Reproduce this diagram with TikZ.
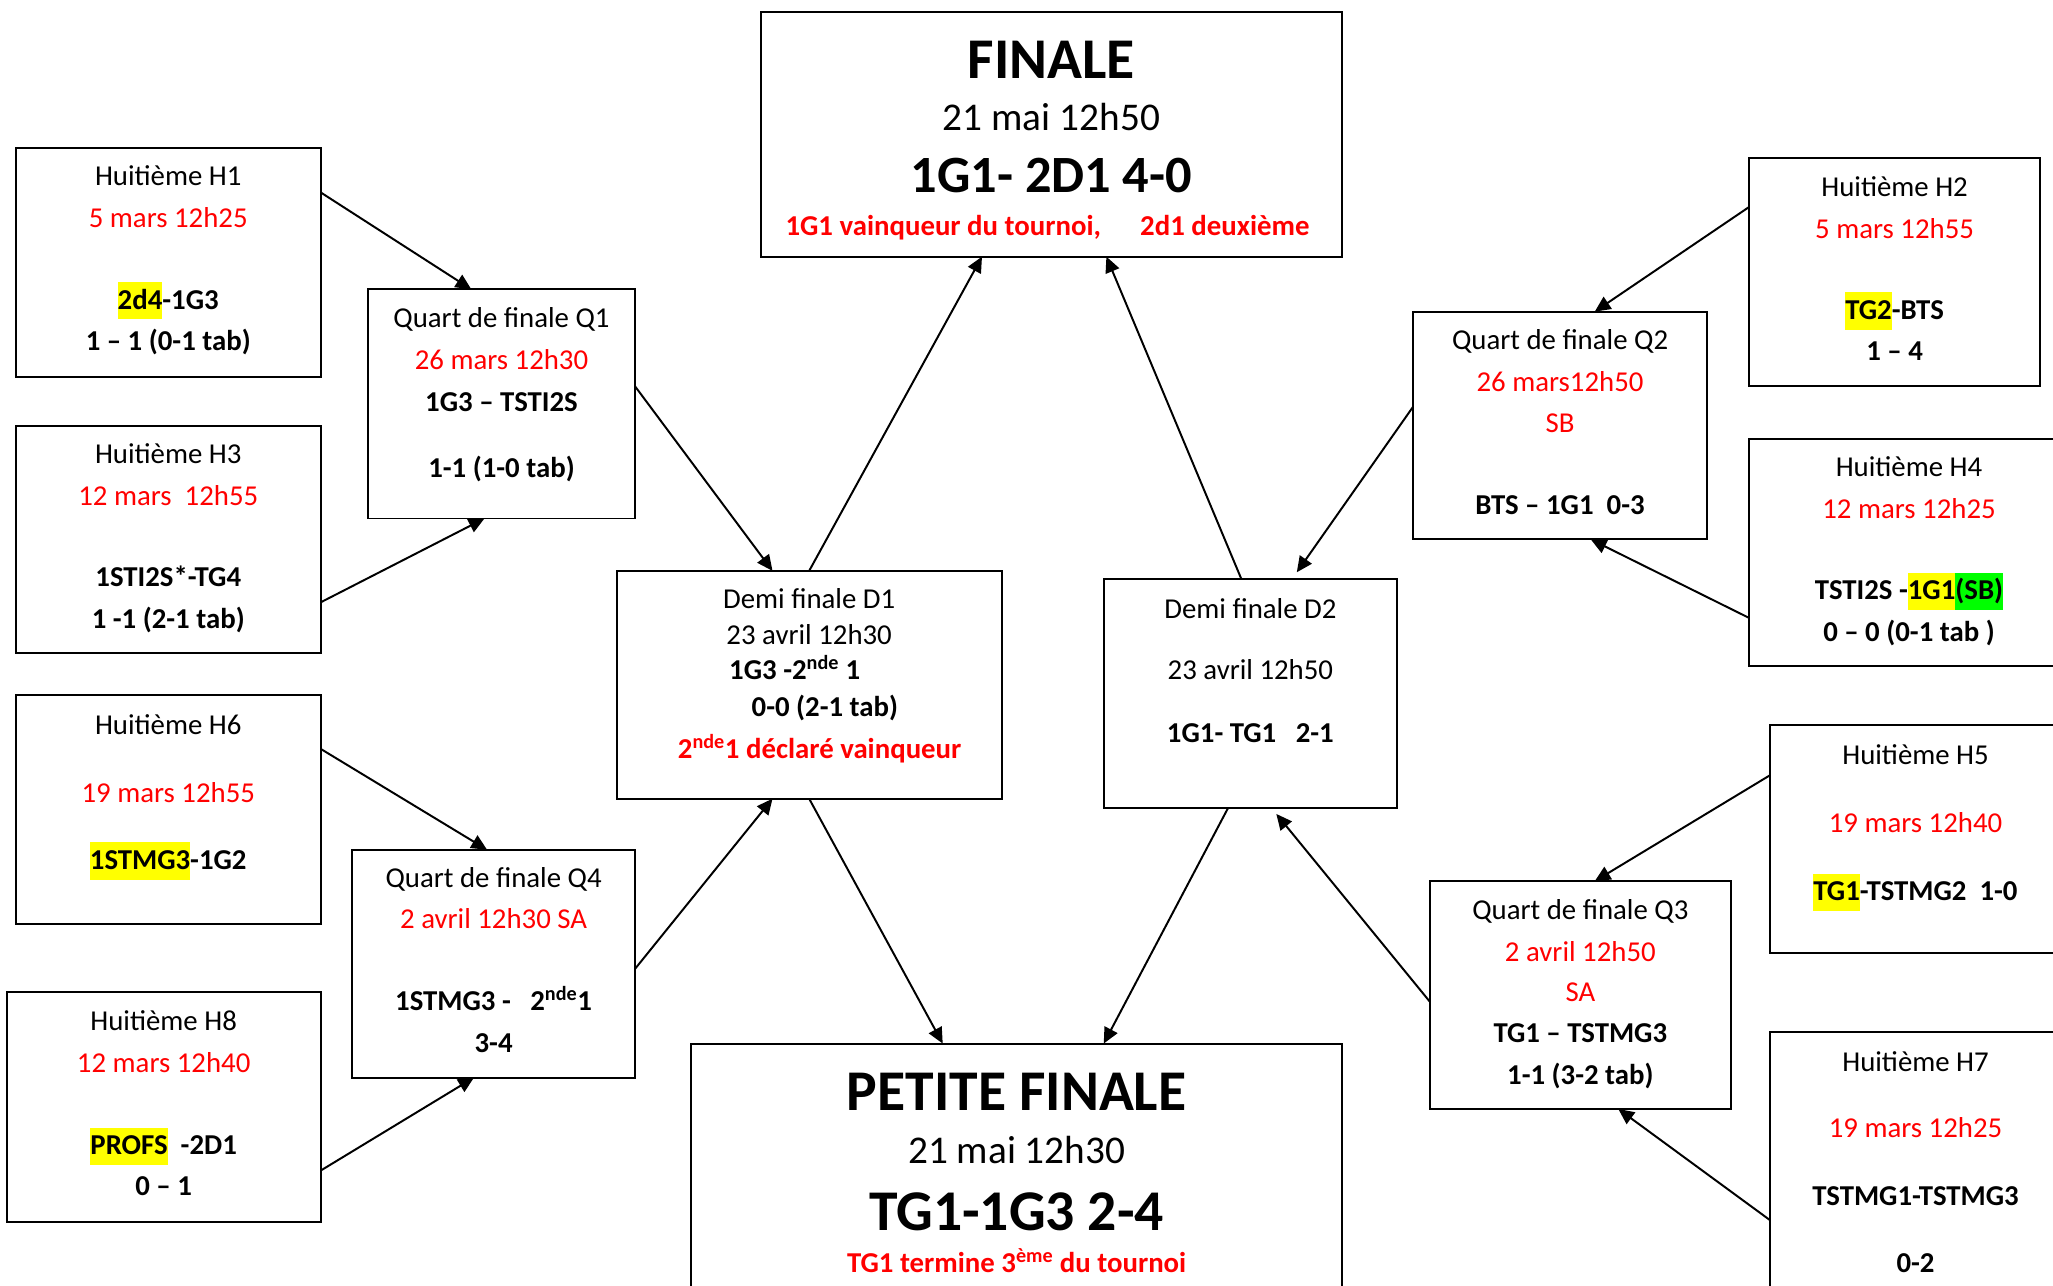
\documentclass[tikz,border=0pt]{standalone}
\usepackage{fontspec}
\setmainfont{Carlito}
\usetikzlibrary{arrows.meta}
\definecolor{hlyel}{RGB}{255,255,0}
\definecolor{hlgrn}{RGB}{0,255,0}
\definecolor{rd}{RGB}{255,0,0}
\newcommand\hly[1]{{\setlength{\fboxsep}{0pt}\colorbox{hlyel}{\rule[-0.36em]{0pt}{1.3em}#1}}}
\newcommand\hlg[1]{{\setlength{\fboxsep}{0pt}\colorbox{hlgrn}{\rule[-0.36em]{0pt}{1.3em}#1}}}
\newcommand\putline[5]{\node[#2] (#1) at (#3,#4) {#5};}
\tikzset{
  box/.style={draw, line width=1.5pt, inner sep=0pt, outer sep=0pt, anchor=north west},
  txt/.style={inner sep=0pt, anchor=base, font=\fontsize{22}{26}\selectfont},
  red/.style={txt, text=rd},
  bt/.style={txt, font=\fontsize{22}{26}\selectfont\bfseries},
  rb/.style={bt, text=rd},
  big/.style={inner sep=0pt, anchor=base, font=\fontsize{44}{50}\selectfont\bfseries},
  mid/.style={inner sep=0pt, anchor=base, font=\fontsize{30}{34}\selectfont},
  score/.style={inner sep=0pt, anchor=base, font=\fontsize{40}{46}\selectfont\bfseries},
  score2/.style={inner sep=0pt, anchor=base, font=\fontsize{44}{50}\selectfont\bfseries},
  arr/.style={line width=1.5pt, -{Triangle[length=12pt,width=11pt]}},
}
\begin{document}
\begin{tikzpicture}[x=1pt,y=-1pt]
\fill[white] (0,0) rectangle (1568,982);
\useasboundingbox (0,0) rectangle (1568,982);

% boxes
\node[box, minimum width=444pt, minimum height=187pt] (fin) at (581,9) {};
\node[box, minimum width=233pt, minimum height=175pt] (h1) at (12,113) {};
\node[box, minimum width=233pt, minimum height=174pt] (h3) at (12,325) {};
\node[box, minimum width=233pt, minimum height=175pt] (h6) at (12,531) {};
\node[box, minimum width=240pt, minimum height=175pt] (h8) at (5,758) {};
\node[box, minimum width=204pt, minimum height=175pt] (q1) at (281,221) {};
\node[box, minimum width=216pt, minimum height=174pt] (q4) at (269,649) {};
\node[box, minimum width=294pt, minimum height=174pt] (d1) at (471,436) {};
\node[box, minimum width=224pt, minimum height=175pt] (d2) at (843,442) {};
\node[box, minimum width=497pt, minimum height=210pt] (pf) at (528,797) {};
\node[box, minimum width=225pt, minimum height=174pt] (q2) at (1079,238) {};
\node[box, minimum width=222pt, minimum height=174pt] (h2) at (1336,121) {};
\node[box, minimum width=244pt, minimum height=174pt] (h4) at (1336,335) {};
\node[box, minimum width=223pt, minimum height=174pt] (h5) at (1352,554) {};
\node[box, minimum width=230pt, minimum height=174pt] (q3) at (1092,673) {};
\node[box, minimum width=223pt, minimum height=220pt] (h7) at (1352,788) {};

% texts
\putline{finA}{big}{803}{60}{FINALE}
\putline{finB}{mid}{803}{100}{21 mai 12h50}
\putline{finC}{score}{803}{147}{1G1- 2D1 4-0}
\putline{finD}{rb}{800}{180}{1G1 vainqueur du tournoi,\hspace{1.36em}2d1 deuxième}

\putline{h1a}{txt}{128.5}{142}{Huitième H1}
\putline{h1b}{red}{128.5}{174}{5 mars 12h25}
\putline{h1c}{bt}{128.5}{236}{\hly{2d4}-1G3}
\putline{h1d}{bt}{128.5}{268}{1 – 1 (0-1 tab)}

\putline{h3a}{txt}{128.5}{354}{Huitième H3}
\putline{h3b}{red}{128.5}{386}{12 mars~ 12h55}
\putline{h3c}{bt}{128.5}{448}{1STI2S*-TG4}
\putline{h3d}{bt}{128.5}{480}{1 -1 (2-1 tab)}

\putline{h6a}{txt}{128.5}{561}{Huitième H6}
\putline{h6b}{red}{128.5}{613}{19 mars 12h55}
\putline{h6c}{bt}{128.5}{664}{\hly{1STMG3}-1G2}

\putline{h8a}{txt}{125}{787}{Huitième H8}
\putline{h8b}{red}{125}{819}{12 mars 12h40}
\putline{h8c}{bt}{125}{882}{\hly{PROFS}~ -2D1}
\putline{h8d}{bt}{125}{913}{0 – 1}

\putline{q1a}{txt}{383}{250}{Quart de finale Q1}
\putline{q1b}{red}{383}{282}{26 mars 12h30}
\putline{q1c}{bt}{383}{314}{1G3 – TSTI2S}
\putline{q1d}{bt}{383}{365}{1-1 (1-0 tab)}

\putline{q4a}{txt}{377}{678}{Quart de finale Q4}
\putline{q4b}{red}{377}{709}{2 avril 12h30 SA}
\putline{q4c}{bt}{377}{772}{1STMG3 -~~~2\textsuperscript{nde}1}
\putline{q4d}{bt}{377}{804}{3-4}

\putline{d1a}{txt}{618}{465}{Demi finale D1}
\putline{d1b}{txt}{618}{492}{23 avril 12h30}
\putline{d1c}{bt}{607}{519}{1G3 -2\textsuperscript{nde} 1}
\putline{d1d}{bt}{630}{547}{0-0 (2-1 tab)}
\putline{d1e}{rb}{626}{579}{2\textsuperscript{nde}1 déclaré vainqueur}

\putline{d2a}{txt}{955}{472}{Demi finale D2}
\putline{d2b}{txt}{955}{519}{23 avril 12h50}
\putline{d2c}{bt}{955}{567}{1G1- TG1~~ 2-1}

\putline{pfa}{big}{776.5}{848}{PETITE FINALE}
\putline{pfb}{mid}{776.5}{889}{21 mai 12h30}
\putline{pfc}{score2}{776.5}{940}{TG1-1G3 2-4}
\putline{pfd}{rb}{776.5}{972}{TG1 termine 3\textsuperscript{ème} du tournoi}

\putline{q2a}{txt}{1191.5}{267}{Quart de finale Q2}
\putline{q2b}{red}{1191.5}{299}{26 mars12h50}
\putline{q2c}{red}{1191.5}{330}{SB}
\putline{q2d}{bt}{1191.5}{393}{BTS – 1G1~ 0-3}

\putline{h2a}{txt}{1447}{150}{Huitième H2}
\putline{h2b}{red}{1447}{182}{5 mars 12h55}
\putline{h2c}{bt}{1447}{244}{\hly{TG2}-BTS}
\putline{h2d}{bt}{1447}{275}{1 – 4}

\putline{h4a}{txt}{1458}{364}{Huitième H4}
\putline{h4b}{red}{1458}{396}{12 mars 12h25}
\putline{h4c}{bt}{1458}{458}{TSTI2S -\hly{1G1}\hlg{(SB)}}
\putline{h4d}{bt}{1458}{490}{0 – 0 (0-1 tab )}

\putline{h5a}{txt}{1463}{584}{Huitième H5}
\putline{h5b}{red}{1463}{636}{19 mars 12h40}
\putline{h5c}{bt}{1463}{688}{\hly{TG1}-TSTMG2~ 1-0}

\putline{q3a}{txt}{1207}{702}{Quart de finale Q3}
\putline{q3b}{red}{1207}{734}{2 avril 12h50}
\putline{q3c}{red}{1207}{765}{SA}
\putline{q3d}{bt}{1207}{796}{TG1 – TSTMG3}
\putline{q3e}{bt}{1207}{828}{1-1 (3-2 tab)}

\putline{h7a}{txt}{1463}{818}{Huitième H7}
\putline{h7b}{red}{1463}{869}{19 mars 12h25}
\putline{h7c}{bt}{1463}{921}{TSTMG1-TSTMG3}
\putline{h7d}{bt}{1463}{972}{0-2}

% connectors
\draw[arr] ([yshift=-34pt]h1.north east) -- ([xshift=79pt]q1.north west);
\draw[arr] ([yshift=-135pt]h3.north east) -- ([xshift=89pt]q1.south west);
\draw[arr] ([yshift=-74pt]q1.north east) -- ([xshift=119pt]d1.north west);
\draw[arr] ([xshift=147pt]d1.north west) -- ([xshift=169pt]fin.south west);
\draw[arr] ([xshift=105pt]d2.north west) -- ([xshift=264pt]fin.south west);
\draw[arr, shorten >=6pt] ([yshift=-73pt]q2.north west) -- ([xshift=144pt]d2.north west);
\draw[arr] ([yshift=-37pt]h2.north west) -- ([xshift=139pt]q2.north west);
\draw[arr] ([yshift=-137pt]h4.north west) -- ([xshift=136pt]q2.south west);
\draw[arr] ([xshift=147pt]d1.south west) -- ([xshift=192pt]pf.north west);
\draw[arr] ([xshift=95pt]d2.south west) -- ([xshift=315pt]pf.north west);
\draw[arr] ([yshift=-91pt]q4.north east) -- ([xshift=119pt]d1.south west);
\draw[arr] ([yshift=-41pt]h6.north east) -- ([xshift=103pt]q4.north west);
\draw[arr] ([yshift=-136pt]h8.north east) -- ([xshift=93pt]q4.south west);
\draw[arr, shorten >=6pt] ([yshift=-92pt]q3.north west) -- ([xshift=128pt]d2.south west);
\draw[arr] ([yshift=-38pt]h5.north west) -- ([xshift=126pt]q3.north west);
\draw[arr] ([yshift=-144pt]h7.north west) -- ([xshift=144pt]q3.south west);
\end{tikzpicture}
\end{document}
